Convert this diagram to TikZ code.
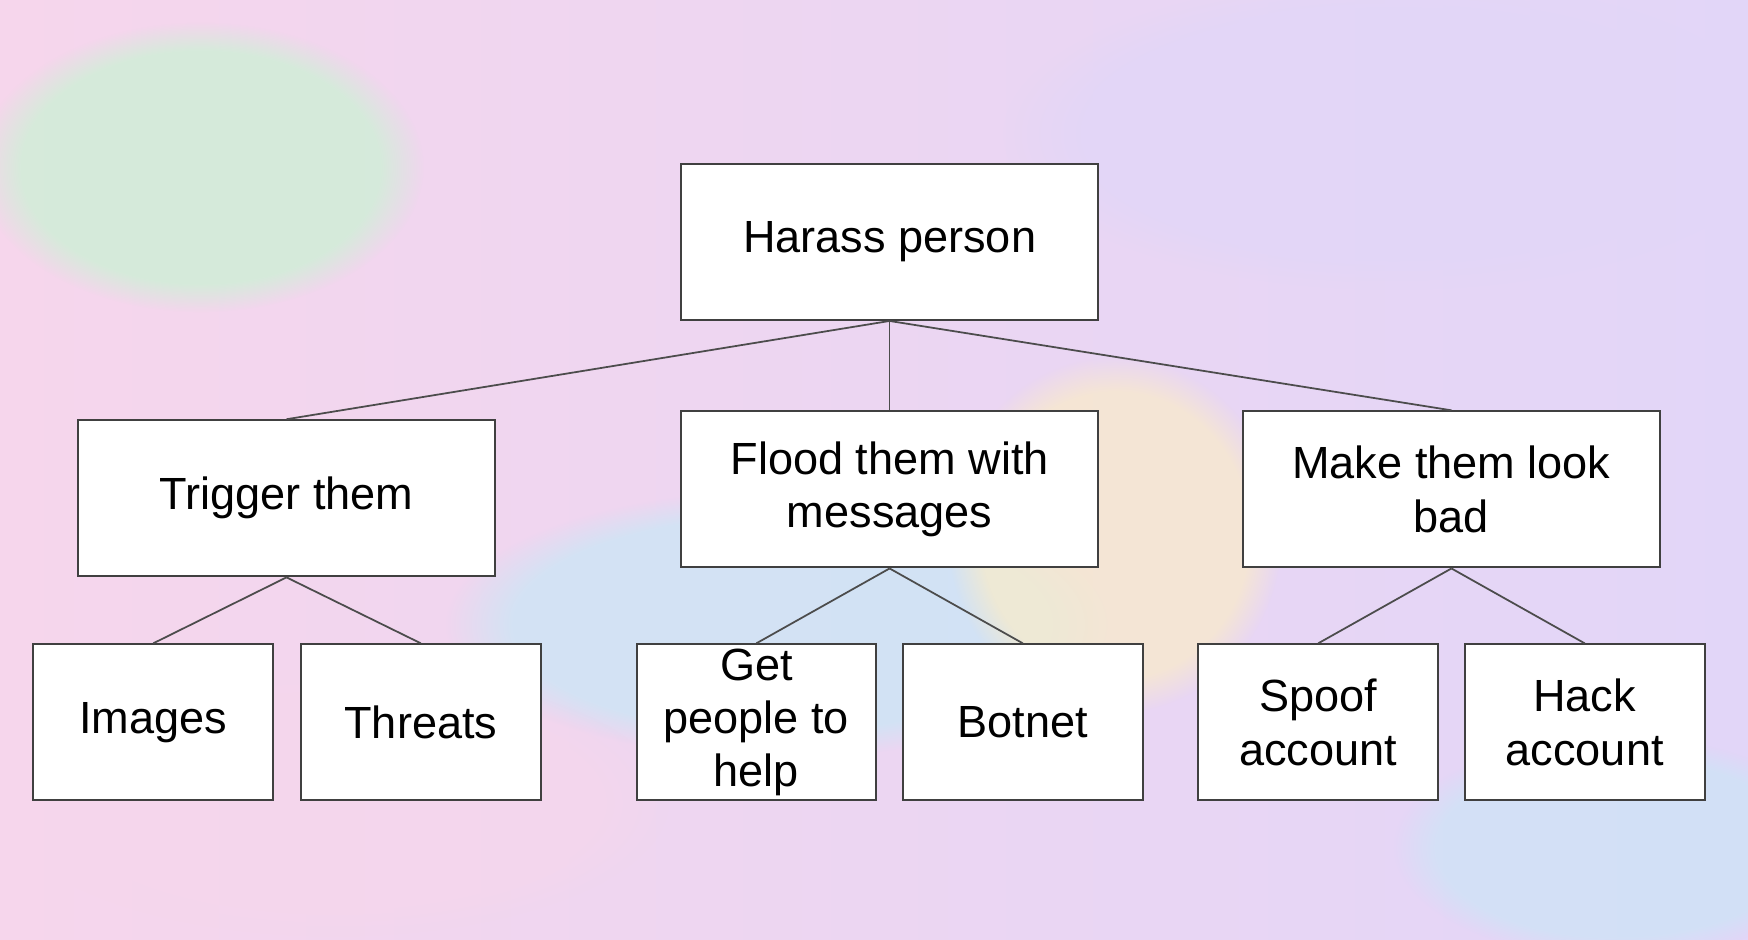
\documentclass[tikz,border=0pt]{standalone}
\usepackage{fontspec}
\setmainfont{Liberation Sans}
\usetikzlibrary{fadings}
\definecolor{bgpink}{RGB}{246,214,236}
\definecolor{bglav}{RGB}{226,214,248}
\definecolor{bgmint}{RGB}{206,240,214}
\definecolor{bgsky}{RGB}{200,232,246}
\definecolor{bgyel}{RGB}{250,236,200}
\begin{document}
\begin{tikzpicture}[x=0.01cm,y=-0.01cm,
  box/.style={draw=black!75,line width=0.5pt,fill=white,minimum width=#1*0.01cm,minimum height=1.40cm,align=center,inner sep=1pt,font=\fontsize{11.5}{13.6}\selectfont},
  box/.default=374,
  link/.style={draw=black!70,line width=0.45pt}]
\useasboundingbox (0,0) rectangle (1568,843);
\shade[left color=bgpink,right color=bglav] (0,0) rectangle (1568,843);
\fill[bgmint,path fading=circle with fuzzy edge 20 percent,opacity=0.8] (180,150) ellipse (200 and 130);
\fill[bglav,path fading=circle with fuzzy edge 20 percent,opacity=0.8] (1250,120) ellipse (350 and 140);
\fill[bgsky,path fading=circle with fuzzy edge 20 percent,opacity=0.7] (700,560) ellipse (300 and 120);
\fill[bgyel,path fading=circle with fuzzy edge 20 percent,opacity=0.7] (1000,480) ellipse (150 and 160);
\fill[bgsky,path fading=circle with fuzzy edge 20 percent,opacity=0.6] (1450,760) ellipse (200 and 100);
\fill[bgpink,path fading=circle with fuzzy edge 20 percent,opacity=0.6] (300,720) ellipse (300 and 120);

\node[box] (root) at (798,217) {Harass person};
\node[box] (trig) at (257,447) {Trigger them};
\node[box] (flood) at (798,439) {Flood them with\\messages};
\node[box] (make) at (1302,439) {Make them look\\bad};
\node[box=215] (img) at (137.5,648) {Images};
\node[box=215] (thr) at (377.5,648) {Threats};
\node[box=215] (get) at (678.5,648) {Get\\people to\\help};
\node[box=215] (bot) at (917.5,648) {Botnet};
\node[box=215] (spf) at (1182.5,648) {Spoof\\account};
\node[box=215] (hck) at (1421.5,648) {Hack\\account};

\draw[link] (root.south) -- (trig.north);
\draw[link] (root.south) -- (flood.north);
\draw[link] (root.south) -- (make.north);
\draw[link] (trig.south) -- (img.north);
\draw[link] (trig.south) -- (thr.north);
\draw[link] (flood.south) -- (get.north);
\draw[link] (flood.south) -- (bot.north);
\draw[link] (make.south) -- (spf.north);
\draw[link] (make.south) -- (hck.north);
\end{tikzpicture}
\end{document}
